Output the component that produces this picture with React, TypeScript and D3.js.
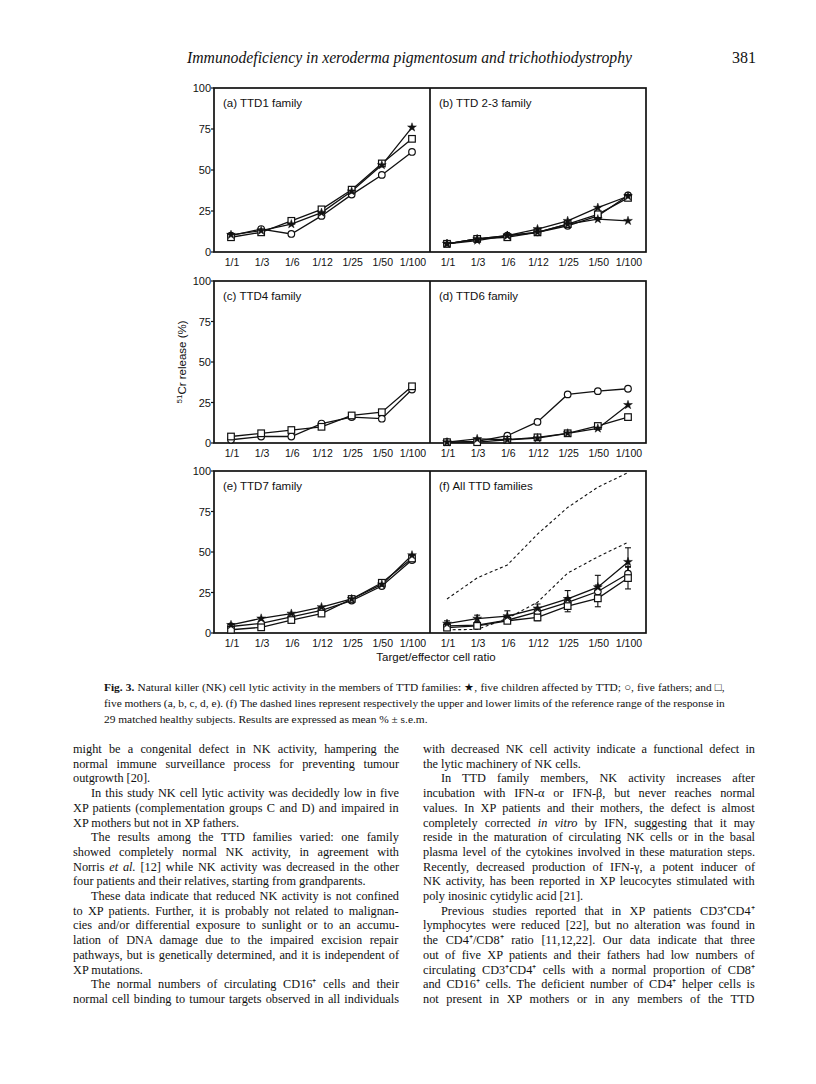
import React from "react";
import * as d3 from "d3";

// ---------- data ----------
const categories = ["1/1", "1/3", "1/6", "1/12", "1/25", "1/50", "1/100"];
const yTicks = [0, 25, 50, 75, 100];

// (a) TTD1 family
const aChild = [10.5, 13, 17, 24, 37, 53, 76];
const aFather = [10, 14, 11, 22, 35, 47, 61];
const aMother = [9, 12, 19, 26, 38, 54, 69];

// (b) TTD 2-3 family
const bChild1 = [5, 7, 10, 14, 19, 27, 34];
const bChild2 = [5, 8, 10, 12, 17, 20, 19];
const bFather = [5, 8, 10, 12, 16, 22, 34.5];
const bMother = [5, 8, 9, 12, 17, 23, 33];

// (c) TTD4 family
const cFather = [2, 4, 4, 12, 16, 15, 33];
const cMother = [4, 6, 8, 10, 17, 19, 35];

// (d) TTD6 family
const dChild = [0.5, 2.5, 2, 3, 6, 9, 23.5];
const dFather = [0.5, 1, 4.5, 13, 30, 32, 33.5];
const dMother = [0.5, 0.5, 2, 3.5, 6, 10.5, 16];

// (e) TTD7 family
const eChild = [5, 9, 12, 16, 21, 30, 48];
const eFather = [4, 6, 10, 14, 20, 29, 45];
const eMother = [2, 3.5, 8, 12, 21, 31, 46];

// (f) All TTD families (mean, s.e.m.)
const fChild = [5.8, 8.9, 10.4, 15.2, 21, 28.3, 43.9];
const fChildSem = [1.7, 2.1, 3.3, 2.7, 5.2, 7.3, 8.7];
const fFather = [4.4, 4.8, 7.9, 13.1, 18.9, 25.6, 36.6];
const fFatherSem = [1.2, 1.5, 2, 2.5, 3, 4, 4.5];
const fMother = [3.3, 4.4, 7.5, 9.6, 16.6, 21.4, 33.9];
const fMotherSem = [1, 1.5, 1.5, 2, 3.5, 5.2, 6.7];
const fUpper = [21, 34, 42, 61, 77.5, 90, 99];
const fLower = [2, 2.2, 9, 19, 37, 47, 56];

const panelTitles = [
  "(a) TTD1 family",
  "(b) TTD 2-3 family",
  "(c) TTD4 family",
  "(d) TTD6 family",
  "(e) TTD7 family",
  "(f) All TTD families",
];

const headerText = "Immunodeficiency in xeroderma pigmentosum and trichothiodystrophy";
const pageNumber = "381";
const xAxisTitle = "Target/effector cell ratio";

type Seg = { t: string; i?: boolean; b?: boolean };
type Line = { segs: Seg[]; indent?: boolean; last?: boolean };

const captionLines: Line[] = [
  {
    segs: [
      { t: "Fig. 3.", b: true },
      { t: " Natural killer (NK) cell lytic activity in the members of TTD families: ★, five children affected by TTD; ○, five fathers; and □," },
    ],
  },
  { segs: [{ t: "five mothers (a, b, c, d, e). (f) The dashed lines represent respectively the upper and lower limits of the reference range of the response in" }] },
  { segs: [{ t: "29 matched healthy subjects. Results are expressed as mean % ± s.e.m." }], last: true },
];

const leftColumn: Line[] = [
  { segs: [{ t: "might be a congenital defect in NK activity, hampering the" }] },
  { segs: [{ t: "normal immune surveillance process for preventing tumour" }] },
  { segs: [{ t: "outgrowth [20]." }], last: true },
  { segs: [{ t: "In this study NK cell lytic activity was decidedly low in five" }], indent: true },
  { segs: [{ t: "XP patients (complementation groups C and D) and impaired in" }] },
  { segs: [{ t: "XP mothers but not in XP fathers." }], last: true },
  { segs: [{ t: "The results among the TTD families varied: one family" }], indent: true },
  { segs: [{ t: "showed completely normal NK activity, in agreement with" }] },
  { segs: [{ t: "Norris " }, { t: "et al.", i: true }, { t: " [12] while NK activity was decreased in the other" }] },
  { segs: [{ t: "four patients and their relatives, starting from grandparents." }], last: true },
  { segs: [{ t: "These data indicate that reduced NK activity is not confined" }], indent: true },
  { segs: [{ t: "to XP patients. Further, it is probably not related to malignan-" }] },
  { segs: [{ t: "cies and/or differential exposure to sunlight or to an accumu-" }] },
  { segs: [{ t: "lation of DNA damage due to the impaired excision repair" }] },
  { segs: [{ t: "pathways, but is genetically determined, and it is independent of" }] },
  { segs: [{ t: "XP mutations." }], last: true },
  { segs: [{ t: "The normal numbers of circulating CD16⁺ cells and their" }], indent: true },
  { segs: [{ t: "normal cell binding to tumour targets observed in all individuals" }] },
];

const rightColumn: Line[] = [
  { segs: [{ t: "with decreased NK cell activity indicate a functional defect in" }] },
  { segs: [{ t: "the lytic machinery of NK cells." }], last: true },
  { segs: [{ t: "In TTD family members, NK activity increases after" }], indent: true },
  { segs: [{ t: "incubation with IFN-α or IFN-β, but never reaches normal" }] },
  { segs: [{ t: "values. In XP patients and their mothers, the defect is almost" }] },
  { segs: [{ t: "completely corrected " }, { t: "in vitro", i: true }, { t: " by IFN, suggesting that it may" }] },
  { segs: [{ t: "reside in the maturation of circulating NK cells or in the basal" }] },
  { segs: [{ t: "plasma level of the cytokines involved in these maturation steps." }] },
  { segs: [{ t: "Recently, decreased production of IFN-γ, a potent inducer of" }] },
  { segs: [{ t: "NK activity, has been reported in XP leucocytes stimulated with" }] },
  { segs: [{ t: "poly inosinic cytidylic acid [21]." }], last: true },
  { segs: [{ t: "Previous studies reported that in XP patients CD3⁺CD4⁺" }], indent: true },
  { segs: [{ t: "lymphocytes were reduced [22], but no alteration was found in" }] },
  { segs: [{ t: "the CD4⁺/CD8⁺ ratio [11,12,22]. Our data indicate that three" }] },
  { segs: [{ t: "out of five XP patients and their fathers had low numbers of" }] },
  { segs: [{ t: "circulating CD3⁺CD4⁺ cells with a normal proportion of CD8⁺" }] },
  { segs: [{ t: "and CD16⁺ cells. The deficient number of CD4⁺ helper cells is" }] },
  { segs: [{ t: "not present in XP mothers or in any members of the TTD" }] },
];

// ---------- layout ----------
const W = 816;
const H = 1084;
const COL_X = [214, 430];
const PANEL_W = 216;
const ROW_TOP = [88, 281, 471];
const ROW_BOTTOM = [252, 443, 633];
const SANS = "'Liberation Sans', Arial, sans-serif";
const SERIF = "'Liberation Serif', 'Times New Roman', serif";
const INK = "#111";

type Marker = "star" | "circle" | "square";
type Series = { marker: Marker; values: number[]; sem?: number[] };

const panelSeries: Series[][] = [
  [
    { marker: "circle", values: aFather },
    { marker: "square", values: aMother },
    { marker: "star", values: aChild },
  ],
  [
    { marker: "circle", values: bFather },
    { marker: "square", values: bMother },
    { marker: "star", values: bChild1 },
    { marker: "star", values: bChild2 },
  ],
  [
    { marker: "circle", values: cFather },
    { marker: "square", values: cMother },
  ],
  [
    { marker: "circle", values: dFather },
    { marker: "square", values: dMother },
    { marker: "star", values: dChild },
  ],
  [
    { marker: "circle", values: eFather },
    { marker: "square", values: eMother },
    { marker: "star", values: eChild },
  ],
  [
    { marker: "circle", values: fFather, sem: fFatherSem },
    { marker: "square", values: fMother, sem: fMotherSem },
    { marker: "star", values: fChild, sem: fChildSem },
  ],
];
const panelDashed: number[][][] = [[], [], [], [], [], [fUpper, fLower]];

const starPath = d3.symbol(d3.symbolStar, 24)() as string;

function MarkerShape({ m, cx, cy }: { m: Marker; cx: number; cy: number }) {
  if (m === "circle")
    return <circle cx={cx} cy={cy} r={3.3} fill="#fff" stroke={INK} strokeWidth={1.2} />;
  if (m === "square")
    return <rect x={cx - 3.3} y={cy - 3.3} width={6.6} height={6.6} fill="#fff" stroke={INK} strokeWidth={1.2} />;
  return <path d={starPath} transform={`translate(${cx},${cy})`} fill={INK} stroke={INK} strokeWidth={0.5} />;
}

function Panel({ idx }: { idx: number }) {
  const row = Math.floor(idx / 2);
  const col = idx % 2;
  const x0 = COL_X[col];
  const top = ROW_TOP[row];
  const bottom = ROW_BOTTOM[row];
  const x = d3.scalePoint<string>().domain(categories).range([x0 + 17, x0 + 198]);
  const y = d3.scaleLinear().domain([0, 100]).range([bottom, top]);
  const line = d3
    .line<number>()
    .x((_, i) => x(categories[i]) as number)
    .y((d) => y(d));
  const series = panelSeries[idx];
  return (
    <g>
      {categories.map((c) => (
        <text key={c} x={(x(c) as number) + 1} y={bottom + 14} textAnchor="middle" fontFamily={SANS} fontSize={10.5} fill={INK}>
          {c}
        </text>
      ))}
      {col === 0 &&
        yTicks.map((t) => (
          <g key={t}>
            <line x1={x0 - 3} x2={x0} y1={y(t)} y2={y(t)} stroke={INK} strokeWidth={1.2} />
            <text x={x0 - 3} y={y(t) + 4} textAnchor="end" fontFamily={SANS} fontSize={11} fill={INK}>
              {t}
            </text>
          </g>
        ))}
      <text x={x0 + 9} y={top + 19} fontFamily={SANS} fontSize={11.5} fill={INK}>
        {panelTitles[idx]}
      </text>
      {panelDashed[idx].map((vals, k) => (
        <path key={k} d={line(vals) as string} fill="none" stroke={INK} strokeWidth={1.1} strokeDasharray="3 2.6" />
      ))}
      {series.map((s, si) =>
        s.sem
          ? s.values.map((v, i) => {
              const cx = x(categories[i]) as number;
              const y1 = y(v + s.sem![i]);
              const y2 = y(v - s.sem![i]);
              return (
                <g key={`e${si}-${i}`} stroke={INK} strokeWidth={1.1}>
                  <line x1={cx} x2={cx} y1={y1} y2={y2} />
                  <line x1={cx - 3} x2={cx + 3} y1={y1} y2={y1} />
                  <line x1={cx - 3} x2={cx + 3} y1={y2} y2={y2} />
                </g>
              );
            })
          : null
      )}
      {series.map((s, si) => (
        <path key={`l${si}`} d={line(s.values) as string} fill="none" stroke={INK} strokeWidth={1.3} />
      ))}
      {series.map((s, si) =>
        s.values.map((v, i) => (
          <MarkerShape key={`m${si}-${i}`} m={s.marker} cx={x(categories[i]) as number} cy={y(v)} />
        ))
      )}
    </g>
  );
}

// text measurement for justification (word spacing)
let measureCtx: CanvasRenderingContext2D | null = null;
function measureLine(segs: Seg[], size: number): number {
  if (typeof document === "undefined") return 0;
  if (!measureCtx) measureCtx = document.createElement("canvas").getContext("2d");
  if (!measureCtx) return 0;
  let w = 0;
  for (const s of segs) {
    measureCtx.font = `${s.i ? "italic " : ""}${s.b ? "bold " : ""}${size}px ${SERIF}`;
    w += measureCtx.measureText(s.t).width;
  }
  return w;
}

function TextBlock({ lines, x0, x1, y0, step, size, indent }: { lines: Line[]; x0: number; x1: number; y0: number; step: number; size: number; indent: number }) {
  return (
    <g fontFamily={SERIF} fontSize={size} fill={INK}>
      {lines.map((ln, k) => {
        const xs = x0 + (ln.indent ? indent : 0);
        const props: any = {};
        if (!ln.last) {
          const natural = measureLine(ln.segs, size);
          const spaces = ln.segs.reduce((n, s) => n + (s.t.match(/ /g) || []).length, 0);
          const extra = x1 - xs - natural;
          if (natural > 0 && spaces > 0 && extra > -spaces * 1.5) {
            props.wordSpacing = extra / spaces;
          } else {
            props.textLength = x1 - xs;
            props.lengthAdjust = "spacingAndGlyphs";
          }
        }
        return (
          <text key={k} x={xs} y={y0 + k * step} {...props}>
            {ln.segs.map((s, j) => (
              <tspan key={j} fontStyle={s.i ? "italic" : undefined} fontWeight={s.b ? "bold" : undefined}>
                {s.t}
              </tspan>
            ))}
          </text>
        );
      })}
    </g>
  );
}

export default function App() {
  return (
    <svg width={W} height={H} viewBox={`0 0 ${W} ${H}`} style={{ position: "absolute", left: 0, top: 0, background: "#fff" }}>
      <rect x={0} y={0} width={W} height={H} fill="#fff" />
      <text x={187} y={63} fontFamily={SERIF} fontStyle="italic" fontSize={16} fill={INK} textLength={445} lengthAdjust="spacingAndGlyphs">
        {headerText}
      </text>
      <text x={756} y={63} textAnchor="end" fontFamily={SERIF} fontSize={16} fill={INK}>
        {pageNumber}
      </text>

      {ROW_TOP.map((t, r) => (
        <g key={r} fill="none" stroke={INK} strokeWidth={1.7}>
          <rect x={COL_X[0]} y={t} width={PANEL_W * 2} height={ROW_BOTTOM[r] - t} />
          <line x1={COL_X[1]} x2={COL_X[1]} y1={t} y2={ROW_BOTTOM[r]} />
        </g>
      ))}
      {[0, 1, 2, 3, 4, 5].map((i) => (
        <Panel key={i} idx={i} />
      ))}

      <text transform={`translate(186,362) rotate(-90)`} textAnchor="middle" fontFamily={SANS} fontSize={11.5} fill={INK}>
        <tspan fontSize={8} dy={-4}>51</tspan>
        <tspan dy={4}>Cr release (%)</tspan>
      </text>
      <text x={436} y={661} textAnchor="middle" fontFamily={SANS} fontSize={11.5} fill={INK}>
        {xAxisTitle}
      </text>

      <TextBlock lines={captionLines} x0={104} x1={725} y0={691} step={16} size={11.4} indent={0} />

      <TextBlock lines={leftColumn} x0={73} x1={399} y0={753} step={14.7} size={12.3} indent={18} />
      <TextBlock lines={rightColumn} x0={423} x1={755} y0={753} step={14.7} size={12.3} indent={18} />
    </svg>
  );
}
